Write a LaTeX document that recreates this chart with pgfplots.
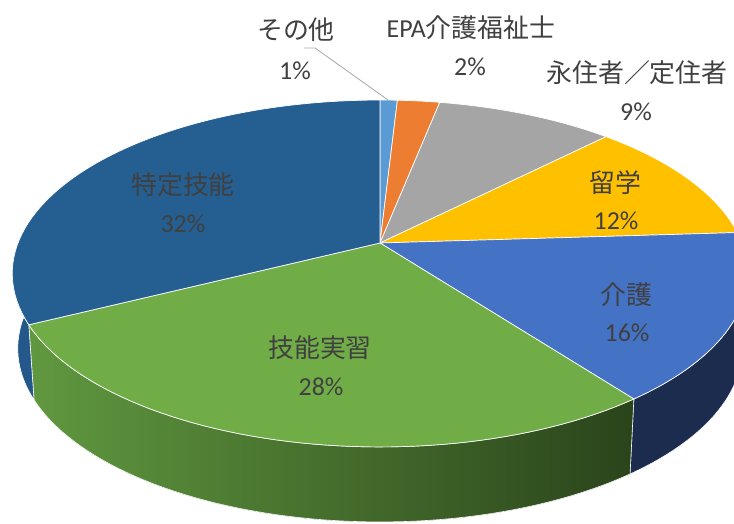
\documentclass[border=0pt]{standalone}
\usepackage{fontspec}
\setmainfont{Carlito}
\newfontfamily\cjk{Noto Sans CJK JP}
\usepackage{pgfplots}
\pgfplotsset{compat=1.18}
\usepackage{pgfplotstable}
\usepgfplotslibrary{fillbetween}
\definecolor{c0}{HTML}{5B9BD5}
\definecolor{c1}{HTML}{ED7D31}
\definecolor{c2}{HTML}{A5A5A5}
\definecolor{c3}{HTML}{FFC000}
\definecolor{c4}{HTML}{4472C4}
\definecolor{c5}{HTML}{70AD47}
\definecolor{c6}{HTML}{255E91}
\definecolor{lab}{HTML}{404040}
\definecolor{leader}{HTML}{A6A6A6}
\pgfplotsset{
  side4/.style={fill={rgb,255:red,27;green,44;blue,78}},
  side5/.style={left color={rgb,255:red,96;green,152;blue,63}, right color={rgb,255:red,42;green,68;blue,27}},
  side6/.style={fill={rgb,255:red,36;green,88;blue,138}},
}
\begin{document}
\begin{tikzpicture}
% shares (per cent) in clockwise order from 12 o'clock
\pgfplotstableread{
idx value
0 0.9
1 2.2
2 9.3
3 11.6
4 15.7
5 27.9
6 32.4
}\piedata
\gdef\cumul{0}
\pgfplotstableforeachcolumnelement{value}\of\piedata\as\v{%
  \pgfmathsetmacro\s{\cumul*3.6}%
  \pgfmathsetmacro\e{(\cumul+\v)*3.6}%
  \expandafter\xdef\csname aS\pgfplotstablerow\endcsname{\s}%
  \expandafter\xdef\csname aE\pgfplotstablerow\endcsname{\e}%
  \pgfmathsetmacro\ss{max(\s,88)}%
  \pgfmathsetmacro\se{min(\e,272)}%
  \expandafter\xdef\csname sS\pgfplotstablerow\endcsname{\ss}%
  \expandafter\xdef\csname sE\pgfplotstablerow\endcsname{\se}%
  \pgfmathsetmacro\c{\cumul+\v}\xdef\cumul{\c}%
}
\begin{axis}[name=ax, width=734bp, height=524bp, scale only axis, hide axis,
  xmin=0, xmax=734, ymin=0, ymax=524, y dir=reverse, clip=true,
  declare function={
    pw(\a)=1+0.1758*cos(\a);
    px(\a)=380+362*sin(\a)/pw(\a);
    py(\a)=243-168.1*cos(\a)/pw(\a);
    bx(\a)=380+0.985*362*sin(\a)/pw(\a);
    by(\a)=py(\a)+75;
  }]
% side faces
\pgfplotsinvokeforeach{4,5,6}{
  \addplot[draw=none, forget plot, name path=t#1, samples=60, variable=\t,
    domain=\csname sS#1\endcsname:\csname sE#1\endcsname] ({px(\t)},{py(\t)});
  \addplot[draw=none, forget plot, name path=b#1, samples=60, variable=\t,
    domain=\csname sS#1\endcsname:\csname sE#1\endcsname] ({bx(\t)},{by(\t)});
  \addplot[side#1, draw=white, line width=0.6pt, forget plot] fill between[of=t#1 and b#1];
}
% top faces
\pgfplotsinvokeforeach{0,...,6}{
  \addplot[fill=c#1, draw=white, line width=0.7pt, samples=60, variable=\t, forget plot,
    domain=\csname aS#1\endcsname:\csname aE#1\endcsname] ({px(\t)},{py(\t)}) -- (axis cs:380,243) -- cycle;
}
% leader line
\addplot[color=leader, line width=0.8pt, forget plot] coordinates {(304,48) (315,48) (388,100)};
\tikzset{lbl/.style={text=lab, font=\fontsize{26}{30}\selectfont, inner sep=0pt}}
\node[lbl] at (axis cs:296,30) {\cjk その他};
\node[lbl] at (axis cs:295,71) {1\%};
\node[lbl] at (axis cs:471,28) {EPA{\cjk 介護福祉士}};
\node[lbl] at (axis cs:470,67) {2\%};
\node[lbl] at (axis cs:637,73) {\cjk 永住者／定住者};
\node[lbl] at (axis cs:636,112) {9\%};
\node[lbl] at (axis cs:615,183) {\cjk 留学};
\node[lbl] at (axis cs:616,221) {12\%};
\node[lbl] at (axis cs:626,295) {\cjk 介護};
\node[lbl] at (axis cs:627,333) {16\%};
\node[lbl] at (axis cs:320,348) {\cjk 技能実習};
\node[lbl] at (axis cs:321,387) {28\%};
\node[lbl] at (axis cs:183,185) {\cjk 特定技能};
\node[lbl] at (axis cs:183,224) {32\%};
\end{axis}
\pgfresetboundingbox
\path (ax.south west) rectangle (ax.north east);
\end{tikzpicture}
\end{document}
